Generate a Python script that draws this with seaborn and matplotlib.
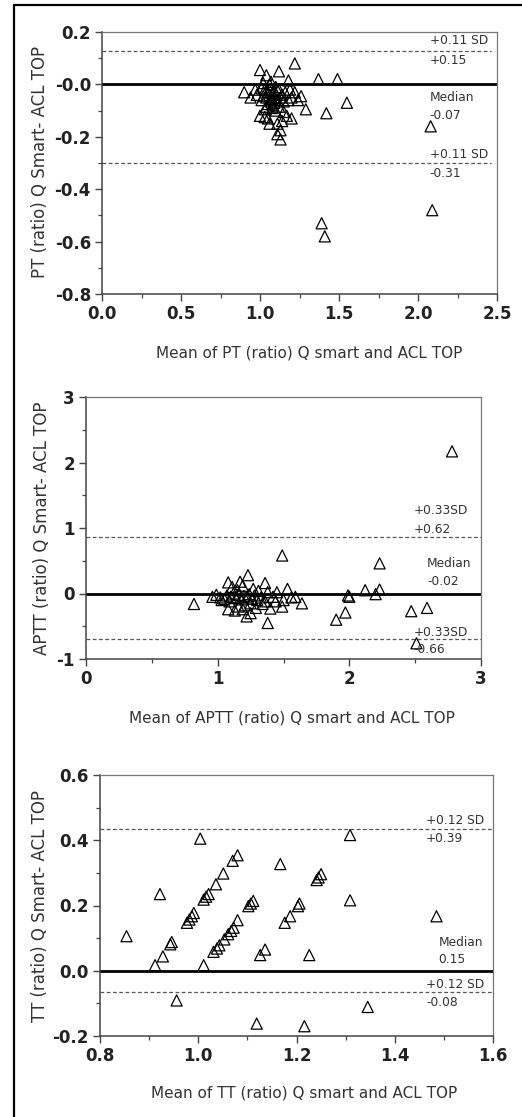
import numpy as np
import pandas as pd
import matplotlib
matplotlib.use("Agg")
import matplotlib.pyplot as plt
from matplotlib.lines import Line2D
from matplotlib.ticker import MultipleLocator, FixedLocator, FixedFormatter
import seaborn as sns

# ---------------- data ----------------
pt_mean = [1.22, 1.00, 1.12, 1.04, 1.18, 1.07, 1.02, 1.37, 1.49,
           0.90, 0.94, 0.97, 1.01, 1.03, 1.05, 1.06, 1.08, 1.09, 1.10, 1.12, 1.14, 1.16, 1.19, 1.22,
           1.26, 1.29, 0.98, 1.02, 1.04, 1.06, 1.07, 1.09, 1.11, 1.13, 1.15, 1.18, 1.20, 1.24,
           1.00, 1.03, 1.05, 1.08, 1.17, 1.20, 1.11, 1.06, 1.13, 1.11, 1.13, 1.05, 1.08, 1.10,
           1.07, 1.09, 1.04, 1.12, 1.15, 1.03, 1.55, 1.42, 2.08, 1.39, 1.41, 2.09, 1.06, 1.10,
           1.01, 1.14]
pt_diff = [0.08, 0.055, 0.05, 0.035, 0.015, 0.01, 0.005, 0.02, 0.02,
           -0.03, -0.05, -0.02, -0.015, -0.02, -0.03, -0.02, -0.03, -0.025, -0.035, -0.02, -0.04, -0.03, -0.02, -0.03,
           -0.045, -0.095, -0.04, -0.045, -0.05, -0.04, -0.055, -0.05, -0.06, -0.05, -0.065, -0.06, -0.05, -0.06,
           -0.12, -0.125, -0.13, -0.09, -0.12, -0.13, -0.15, -0.15, -0.175, -0.19, -0.21, -0.075, -0.08, -0.1,
           -0.065, -0.07, -0.085, -0.085, -0.105, -0.095, -0.07, -0.11, -0.16, -0.53, -0.58, -0.48, 0.0, -0.01,
           -0.06, -0.14]

aptt_mean = [2.78, 1.49, 2.23, 0.82, 2.12, 2.23, 2.20, 1.99, 2.00, 1.90, 1.97, 2.47, 2.59, 2.51,
             1.38, 1.22, 1.25, 1.08, 1.08, 1.23, 1.17, 1.36, 1.53, 1.64, 1.59, 1.49, 1.40,
             0.96, 0.99, 1.02, 1.05, 1.07, 1.10, 1.12, 1.14, 1.16, 1.18, 1.20, 1.22, 1.24, 1.26,
             1.28, 1.30, 1.33, 1.36, 1.42, 1.45, 1.50, 1.56, 1.11, 1.15, 1.19, 1.27, 1.31, 1.16,
             1.21, 1.25, 1.29, 1.34, 1.13, 1.03, 1.09, 1.19, 1.38, 1.44]
aptt_diff = [2.17, 0.58, 0.46, -0.16, 0.05, 0.06, -0.01, -0.03, -0.05, -0.40, -0.29, -0.27, -0.22, -0.76,
             -0.45, -0.35, -0.30, -0.24, 0.17, 0.28, 0.18, 0.16, 0.07, -0.15, -0.05, -0.20, -0.23,
             -0.05, -0.02, -0.06, -0.08, -0.03, -0.05, 0.00, -0.07, -0.02, -0.09, -0.04, -0.06, -0.01, -0.08,
             -0.03, -0.10, -0.06, -0.12, -0.05, 0.02, -0.10, -0.06, 0.10, 0.05, 0.12, 0.07, 0.04, -0.20,
             -0.18, -0.15, -0.22, -0.16, -0.26, -0.10, -0.12, -0.24, 0.02, -0.12]

tt_mean = [0.854, 0.912, 0.928, 0.943, 0.946, 0.922, 0.956, 0.977, 0.982, 0.987, 0.991, 1.004,
           1.011, 1.016, 1.021, 1.036, 1.051, 1.070, 1.080, 1.011, 1.031, 1.038, 1.043, 1.053,
           1.061, 1.067, 1.072, 1.080, 1.102, 1.107, 1.112, 1.119, 1.126, 1.136, 1.167, 1.176,
           1.187, 1.203, 1.206, 1.216, 1.226, 1.241, 1.245, 1.250, 1.309, 1.309, 1.345, 1.485]
tt_diff = [0.106, 0.017, 0.044, 0.081, 0.088, 0.235, -0.091, 0.147, 0.157, 0.167, 0.177, 0.405,
           0.218, 0.227, 0.235, 0.265, 0.298, 0.337, 0.354, 0.017, 0.058, 0.068, 0.078, 0.096,
           0.112, 0.122, 0.132, 0.155, 0.198, 0.206, 0.214, -0.162, 0.048, 0.065, 0.327, 0.147,
           0.167, 0.198, 0.206, -0.170, 0.048, 0.278, 0.286, 0.296, 0.416, 0.216, -0.111, 0.167]

ylabels = ["PT (ratio) Q Smart- ACL TOP", "APTT (ratio) Q Smart- ACL TOP", "TT (ratio) Q Smart- ACL TOP"]
xlabels = ["Mean of PT (ratio) Q smart and ACL TOP", "Mean of APTT (ratio) Q smart and ACL TOP",
           "Mean of TT (ratio) Q smart and ACL TOP"]

upper_loa = [0.128, 0.855, 0.433]
lower_loa = [-0.30, -0.69, -0.065]

annot_top = [("+0.11 SD", "+0.15"), ("+0.33SD", "+0.62"), ("+0.12 SD", "+0.39")]
annot_med = [("Median", "-0.07"), ("Median", "-0.02"), ("Median", "0.15")]
annot_bot = [("+0.11 SD", "-0.31"), ("+0.33SD", "-0.66"), ("+0.12 SD", "-0.08")]

xlims = [(0, 2.5), (0, 3), (0.8, 1.6)]
ylims = [(-0.8, 0.2), (-1, 3), (-0.2, 0.6)]
xmajor = [[0, 0.5, 1.0, 1.5, 2.0, 2.5], [0, 1, 2, 3], [0.8, 1.0, 1.2, 1.4, 1.6]]
xticklabels = [["0.0", "0.5", "1.0", "1.5", "2.0", "2.5"], ["0", "1", "2", "3"],
               ["0.8", "1.0", "1.2", "1.4", "1.6"]]
ymajor = [[-0.8, -0.6, -0.4, -0.2, 0.0, 0.2], [-1, 0, 1, 2, 3], [-0.2, 0.0, 0.2, 0.4, 0.6]]
yticklabels = [["-0.8", "-0.6", "-0.4", "-0.2", "-0.0", "0.2"], ["-1", "0", "1", "2", "3"],
               ["-0.2", "0.0", "0.2", "0.4", "0.6"]]
xminor = [0.25, 0.5, 0.1]
yminor = [0.1, 0.5, 0.1]

# text positions in data coords
text_pos = [
    dict(x=2.075, xm=2.075, y=[0.166, 0.092, -0.05, -0.117, -0.266, -0.339]),
    dict(x=2.488, xm=2.59, y=[1.264, 0.98, 0.462, 0.183, -0.589, -0.858]),
    dict(x=1.464, xm=1.489, y=[0.462, 0.404, 0.088, 0.034, -0.042, -0.096]),
]

# ---------------- layout ----------------
W, H = 522, 1117
fig = plt.figure(figsize=(W / 100, H / 100), dpi=100)
sns.set_style("white")
plt.rcParams['font.family'] = ['DejaVu Sans']

boxes = [(102, 497, 32, 294), (86, 481, 397, 659), (100, 493, 775, 1036)]
xlab_pos = [(309, 353), (292, 718), (304, 1093)]
ylab_pos = [(40, 162), (42, 528), (40, 906)]

datasets = [(pt_mean, pt_diff), (aptt_mean, aptt_diff), (tt_mean, tt_diff)]

for i, (l, r, t, b) in enumerate(boxes):
    ax = fig.add_axes([l / W, 1 - b / H, (r - l) / W, (b - t) / H])
    df = pd.DataFrame({"mean": datasets[i][0], "diff": datasets[i][1]})
    ax.axhline(0, color="black", lw=2.0, zorder=2)
    xmax_frac = 0.985 if i == 0 else 1.0
    ax.axhline(upper_loa[i], xmax=xmax_frac, color="#555555", lw=0.9, ls=(0, (3, 2)), zorder=1)
    ax.axhline(lower_loa[i], xmax=xmax_frac, color="#555555", lw=0.9, ls=(0, (3, 2)), zorder=1)
    sns.scatterplot(data=df, x="mean", y="diff", ax=ax, marker="^", s=64,
                    facecolor="none", edgecolor="black", linewidth=0.9, zorder=3)
    ax.set_xlim(*xlims[i])
    ax.set_ylim(*ylims[i])
    ax.xaxis.set_major_locator(FixedLocator(xmajor[i]))
    ax.xaxis.set_major_formatter(FixedFormatter(xticklabels[i]))
    ax.yaxis.set_major_locator(FixedLocator(ymajor[i]))
    ax.yaxis.set_major_formatter(FixedFormatter(yticklabels[i]))
    ax.xaxis.set_minor_locator(MultipleLocator(xminor[i]))
    ax.yaxis.set_minor_locator(MultipleLocator(yminor[i]))
    ax.tick_params(which="major", direction="out", length=5, width=1.0, color="#444444",
                   labelsize=12, pad=3, labelcolor="#222222",
                   bottom=True, left=True, top=False, right=False)
    ax.tick_params(which="minor", direction="out", length=3, width=0.9, color="#444444",
                   bottom=True, left=True, top=False, right=False)
    for lab in ax.get_xticklabels() + ax.get_yticklabels():
        lab.set_fontweight("bold")
    for side in ["left", "bottom"]:
        ax.spines[side].set_color("#444444")
        ax.spines[side].set_linewidth(1.1)
    for side in ["top", "right"]:
        ax.spines[side].set_color("#777777")
        ax.spines[side].set_linewidth(0.9)
    ax.set_xlabel("")
    ax.set_ylabel("")
    tp = text_pos[i]
    tkw = dict(fontsize=8.8, color="#333333", va="center", ha="left")
    ax.text(tp["x"], tp["y"][0], annot_top[i][0], **tkw)
    ax.text(tp["x"], tp["y"][1], annot_top[i][1], **tkw)
    ax.text(tp["xm"], tp["y"][2], annot_med[i][0], **tkw)
    ax.text(tp["xm"], tp["y"][3], annot_med[i][1], **tkw)
    ax.text(tp["x"], tp["y"][4], annot_bot[i][0], **tkw)
    ax.text(tp["x"], tp["y"][5], annot_bot[i][1], **tkw)

    fig.text(xlab_pos[i][0] / W, 1 - xlab_pos[i][1] / H, xlabels[i], ha="center", va="center",
             fontsize=11, color="#333333")
    fig.text(ylab_pos[i][0] / W, 1 - ylab_pos[i][1] / H, ylabels[i], ha="center", va="center",
             rotation=90, fontsize=12, color="#333333")

# outer frame (left and top edges)
fx = 13.5 / W
fy = 1 - 5 / H
fig.add_artist(Line2D([fx, fx], [0, fy], transform=fig.transFigure, color="black", lw=1.6))
fig.add_artist(Line2D([fx, 1], [fy, fy], transform=fig.transFigure, color="black", lw=1.6))

fig.savefig("out.png", dpi=100)
